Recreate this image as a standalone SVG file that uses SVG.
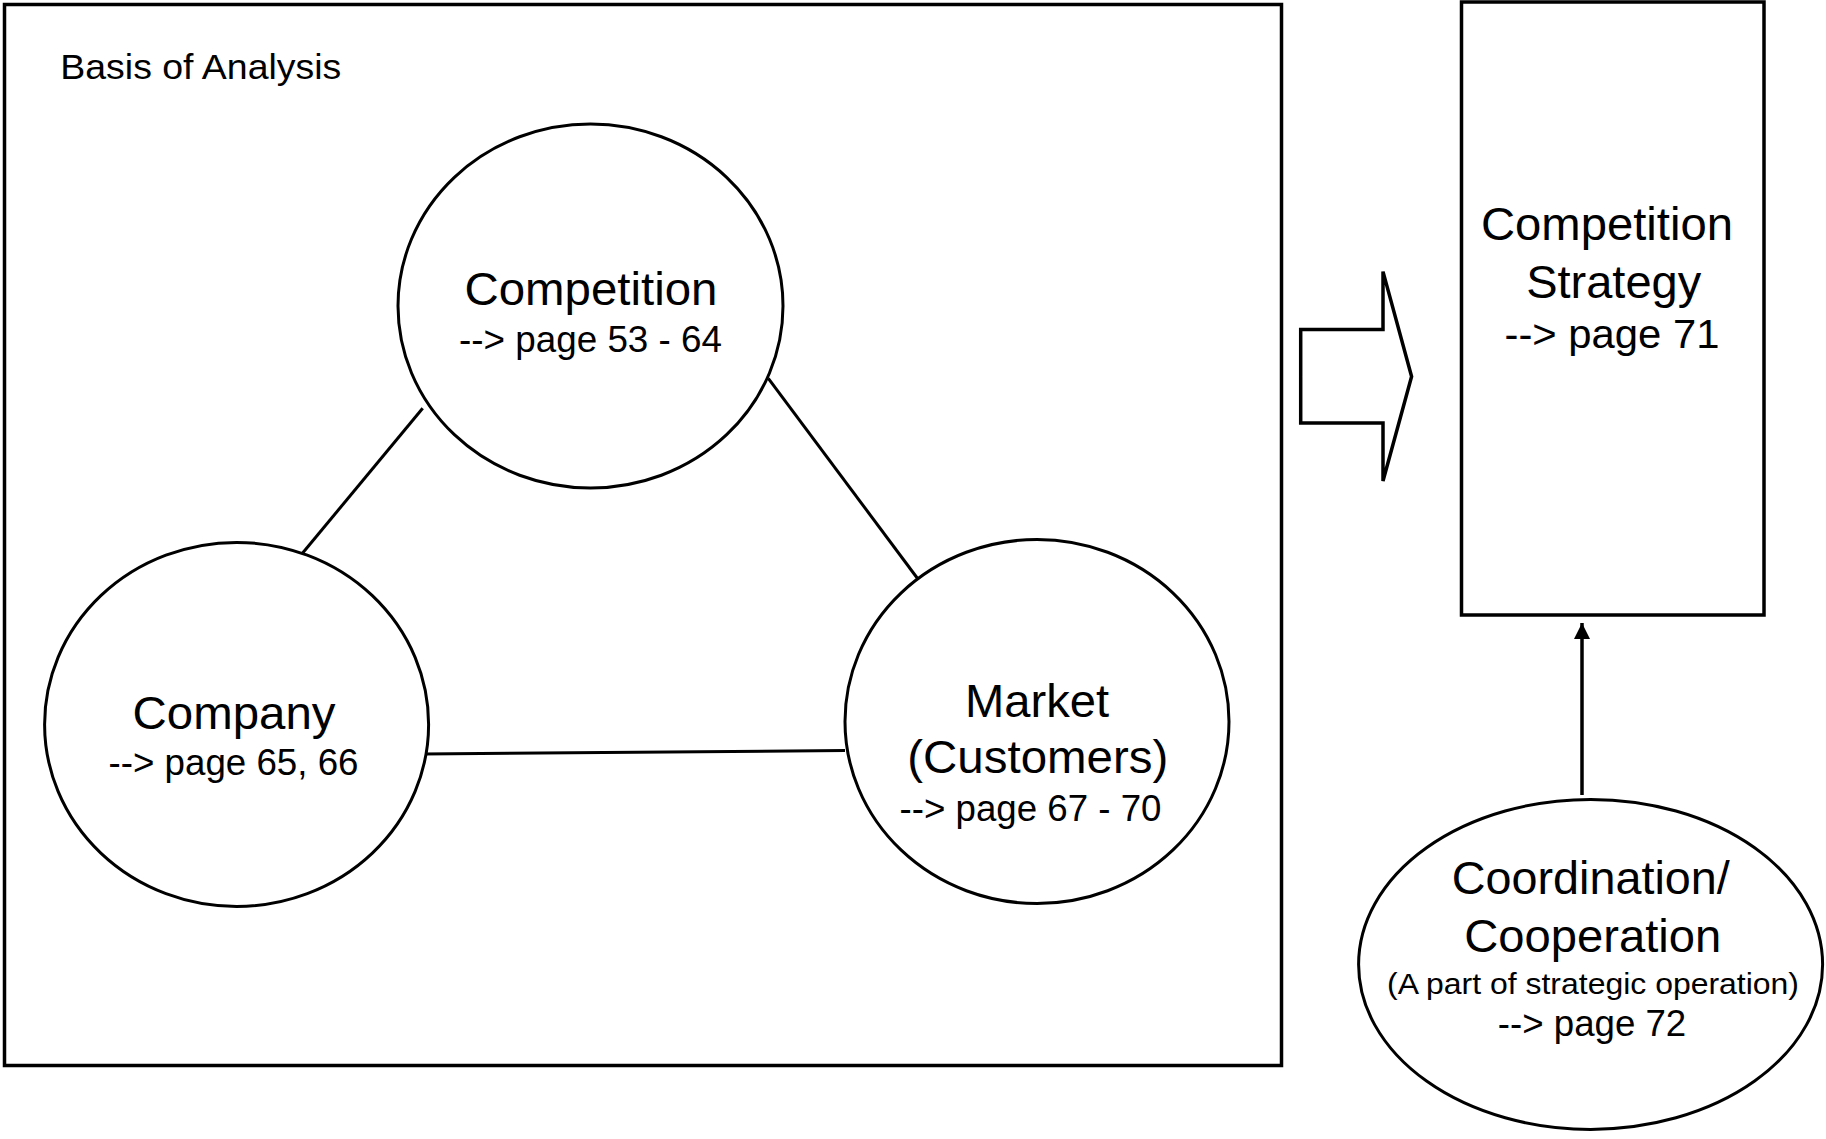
<svg xmlns="http://www.w3.org/2000/svg" width="1826" height="1139" viewBox="0 0 1826 1139">
  <style>
    .frame { fill: none; stroke: #000; stroke-width: 3.5; }
    .node { fill: #fff; stroke: #000; stroke-width: 3; }
    .link { fill: none; stroke: #000; stroke-width: 3; }
    text { font-family: "Liberation Sans", Arial, sans-serif; fill: #000; text-anchor: middle; }
    .big { font-size: 47px; }
    .ref { font-size: 36px; }
    .note { font-size: 30px; }
  </style>
  <defs>
    <marker id="arrowhead" markerWidth="16" markerHeight="16" refX="16" refY="8" orient="auto" markerUnits="userSpaceOnUse">
      <path d="M0,0 L16,8 L0,16 Z" fill="#000"/>
    </marker>
  </defs>

  <rect width="1826" height="1139" fill="#fff"/>

  <!-- analysis frame -->
  <g id="basis-of-analysis">
    <rect class="frame" x="4.5" y="4.5" width="1277" height="1061"/>
    <text x="60.3" y="79" style="font-size:35px;text-anchor:start" textLength="281" lengthAdjust="spacingAndGlyphs">Basis of Analysis</text>
  </g>

  <!-- connectors -->
  <g id="connectors">
    <line class="link" x1="422.7" y1="408.3" x2="301" y2="555"/>
    <line class="link" x1="768.3" y1="378.3" x2="918.3" y2="579.5"/>
    <line class="link" x1="423" y1="754" x2="845" y2="750.5"/>
    <polygon class="frame" points="1300.7,329.6 1383,329.6 1383,271.6 1411.6,376.5 1383,481 1383,422.9 1300.7,422.9"/>
    <line x1="1582" y1="795" x2="1582" y2="623" stroke="#000" stroke-width="3.5" marker-end="url(#arrowhead)"/>
  </g>

  <g id="competition">
    <ellipse class="node" cx="590.5" cy="306" rx="192.5" ry="182"/>
    <text class="big" x="591" y="305" textLength="253" lengthAdjust="spacingAndGlyphs">Competition</text>
    <text class="ref" x="590.5" y="352" textLength="263" lengthAdjust="spacingAndGlyphs">--&gt; page 53 - 64</text>
  </g>

  <g id="company">
    <ellipse class="node" cx="236.6" cy="724.4" rx="192" ry="182"/>
    <text class="big" x="234" y="729" textLength="203" lengthAdjust="spacingAndGlyphs">Company</text>
    <text class="ref" x="233.5" y="775" textLength="250" lengthAdjust="spacingAndGlyphs">--&gt; page 65, 66</text>
  </g>

  <g id="market">
    <ellipse class="node" cx="1037" cy="721.5" rx="192" ry="182"/>
    <text class="big" x="1037" y="717" textLength="144" lengthAdjust="spacingAndGlyphs">Market</text>
    <text class="big" x="1037.8" y="773" textLength="261" lengthAdjust="spacingAndGlyphs">(Customers)</text>
    <text class="ref" x="1030.5" y="821" textLength="262" lengthAdjust="spacingAndGlyphs">--&gt; page 67 - 70</text>
  </g>

  <g id="competition-strategy">
    <rect class="frame" x="1461.5" y="2" width="302.5" height="613"/>
    <text class="big" x="1607" y="239.6" textLength="252" lengthAdjust="spacingAndGlyphs">Competition</text>
    <text class="big" x="1613.7" y="297.7" textLength="175" lengthAdjust="spacingAndGlyphs">Strategy</text>
    <text x="1612" y="348.3" style="font-size:41px" textLength="215" lengthAdjust="spacingAndGlyphs">--&gt; page 71</text>
  </g>

  <g id="coordination">
    <ellipse class="node" cx="1590.6" cy="964.4" rx="232" ry="165"/>
    <text class="big" x="1590.8" y="894" textLength="278" lengthAdjust="spacingAndGlyphs">Coordination/</text>
    <text class="big" x="1592.7" y="952.4" textLength="257" lengthAdjust="spacingAndGlyphs">Cooperation</text>
    <text class="note" x="1593" y="993.6" textLength="412" lengthAdjust="spacingAndGlyphs">(A part of strategic operation)</text>
    <text class="ref" x="1592" y="1036" textLength="188.5" lengthAdjust="spacingAndGlyphs">--&gt; page 72</text>
  </g>
</svg>
